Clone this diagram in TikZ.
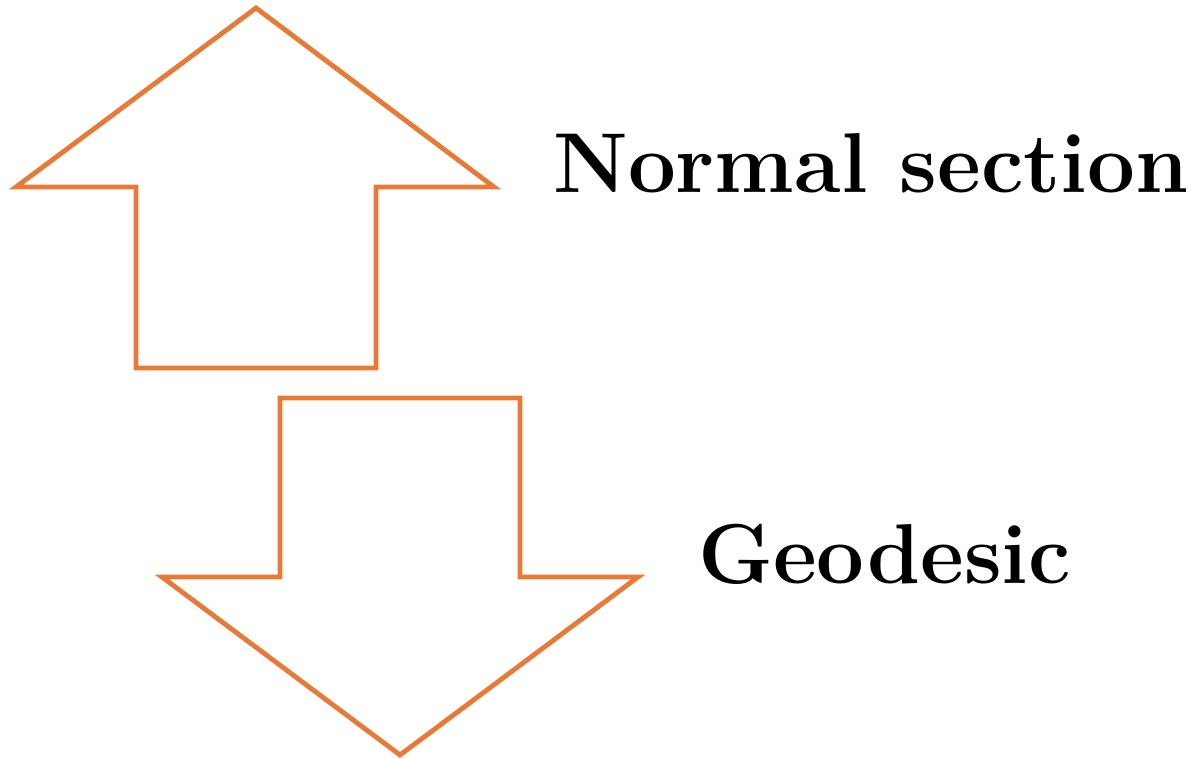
\documentclass[tikz,border=0pt]{standalone}
\definecolor{arroworange}{RGB}{232,122,53}
\tikzset{
  bigarrow/.style={draw=arroworange, line width=4.8pt, line join=miter},
  label/.style={anchor=base west, inner sep=0pt, font=\fontsize{85}{100}\selectfont\bfseries}
}
\begin{document}
\begin{tikzpicture}[x=1pt,y=-1pt]
\useasboundingbox (0,0) rectangle (1191,759);
% up arrow
\draw[bigarrow] (256,8) -- (494,187) -- (376,187) -- (376,368) -- (136,368) -- (136,187) -- (16,187) -- cycle;
% down arrow
\draw[bigarrow] (280,398) -- (520,398) -- (520,577) -- (638,577) -- (400,755) -- (162,577) -- (280,577) -- cycle;
\node[label] (normal) at (553,193) {Normal section};
\node[label] (geo) at (698,583) {Geodesic};
\end{tikzpicture}
\end{document}
